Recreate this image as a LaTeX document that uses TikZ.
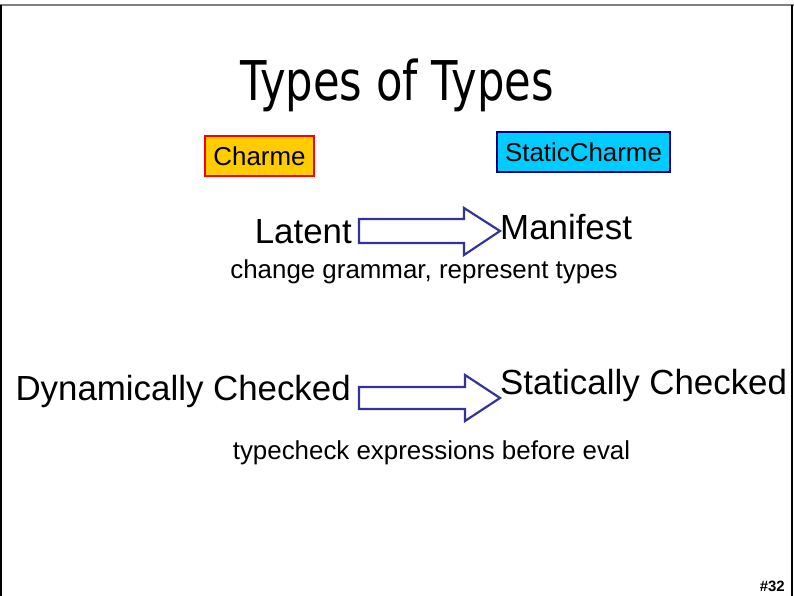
\documentclass[tikz,border=0pt]{standalone}
\usepackage{fontspec}
\setmainfont{Liberation Sans}
\newfontfamily\titlefont[FakeStretch=0.79]{DejaVu Sans}
\usetikzlibrary{positioning}

\definecolor{charmegold}{HTML}{FFCC00}
\definecolor{staticcyan}{HTML}{00CCFF}
\definecolor{arrowblue}{HTML}{333399}

\tikzset{
    bigtext/.style={font=\fontsize{35}{40}\selectfont, inner sep=0pt},
    smalltext/.style={font=\fontsize{26}{30}\selectfont, inner sep=0pt},
    langbox/.style={font=\fontsize{26}{30}\selectfont, inner sep=0pt, line width=2pt},
    fatarrow/.style={draw=arrowblue, fill=white, line width=2.2pt, line join=miter},
}

\begin{document}
\begin{tikzpicture}[x=1bp, y=-1bp]

    \useasboundingbox (0,0) rectangle (794,596);

    % Slide frame
    \draw[gray, line width=2pt] (0,5) -- (794,5);
    \draw[black, line width=2pt] (1,5) -- (1,596);
    \draw[black, line width=2pt] (791.5,5) -- (791.5,596);

    % Title
    \node[anchor=base, inner sep=0pt, font=\titlefont\fontsize{55}{60}\selectfont] (title) at (397,101) {Types of Types};

    % Languages
    \node[langbox, draw=red, fill=charmegold, minimum width=109, minimum height=40] (charme) at (259.5,156) {Charme};
    \node[langbox, draw=blue!50!black, fill=staticcyan, minimum width=173, minimum height=40] (staticcharme) at (583.5,152) {StaticCharme};

    % Latent -> Manifest
    \node[bigtext, anchor=base east] (latent) at (352,243) {Latent};
    \node[bigtext, anchor=base west] (manifest) at (500,239) {Manifest};
    \draw[fatarrow] (359,219) -- (464,219) -- (464,208) -- (manifest.west |- 0,231)
        -- (464,255) -- (464,243) -- (359,243) -- cycle;
    \node[smalltext, anchor=base] (grammar) at (424,278) {change grammar, represent types};

    % Dynamically -> Statically checked
    \node[bigtext, anchor=base east] (dynamic) at (351,400) {Dynamically Checked};
    \node[bigtext, anchor=base west] (static) at (500,394) {Statically Checked};
    \draw[fatarrow] (359,387) -- (465,387) -- (465,375) -- (static.west |- 0,398)
        -- (465,421) -- (465,409) -- (359,409) -- cycle;
    \node[smalltext, anchor=base] (typecheck) at (431.5,459) {typecheck expressions before eval};

    % Slide number
    \node[anchor=base east, inner sep=0pt, font=\fontsize{15}{17}\selectfont\bfseries] (slidenum) at (785,591) {\#32};

\end{tikzpicture}
\end{document}
